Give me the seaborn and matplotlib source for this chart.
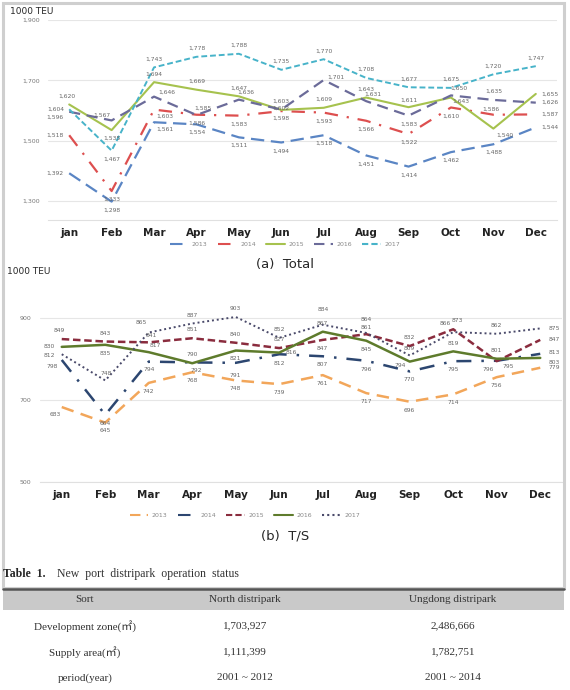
import pandas as pd
import numpy as np
import matplotlib.pyplot as plt
import seaborn as sns

months = ['jan', 'Feb', 'Mar', 'Apr', 'May', 'Jun', 'Jul', 'Aug', 'Sep', 'Oct', 'Nov', 'Dec']
years = ['2013', '2014', '2015', '2016', '2017']

# (a) Total, 1000 TEU
total_2013 = [1392, 1298, 1561, 1554, 1511, 1494, 1518, 1451, 1414, 1462, 1488, 1544]
total_2014 = [1518, 1333, 1603, 1586, 1583, 1598, 1593, 1566, 1522, 1610, 1586, 1587]
total_2015 = [1620, 1535, 1694, 1669, 1647, 1602, 1609, 1643, 1611, 1643, 1540, 1655]
total_2016 = [1596, 1567, 1646, 1585, 1636, 1603, 1701, 1631, 1583, 1650, 1635, 1626]
total_2017 = [1604, 1467, 1743, 1778, 1788, 1735, 1770, 1708, 1677, 1675, 1720, 1747]

# (b) T/S, 1000 TEU
ts_2013 = [683, 645, 742, 768, 748, 739, 761, 717, 696, 714, 756, 779]
ts_2014 = [798, 664, 794, 792, 791, 812, 807, 796, 770, 795, 796, 813]
ts_2015 = [849, 843, 841, 851, 840, 827, 847, 861, 832, 873, 795, 847]
ts_2016 = [830, 835, 817, 790, 821, 816, 867, 845, 794, 819, 801, 803]
ts_2017 = [812, 748, 865, 887, 903, 852, 884, 864, 809, 866, 862, 875]

table_cols = ['Sort', 'North distripark', 'Ungdong distripark']
table_rows = [['Development zone(㎡)', '1,703,927', '2,486,666'],
              ['Supply area(㎡)', '1,111,399', '1,782,751'],
              ['period(year)', '2001 ~ 2012', '2001 ~ 2014']]


def to_long(series):
    rows = []
    for yr, vals in zip(years, series):
        for m, v in zip(months, vals):
            rows.append({'month': m, 'value': v, 'year': yr})
    return pd.DataFrame(rows)


df_total = to_long([total_2013, total_2014, total_2015, total_2016, total_2017])
df_ts = to_long([ts_2013, ts_2014, ts_2015, ts_2016, ts_2017])

sns.set_style('white')
plt.rcParams['font.family'] = ['DejaVu Sans']

W, H = 570, 690
fig = plt.figure(figsize=(5.7, 6.9), dpi=100)


def fx(px):
    return px / W


def fy(py):
    return 1 - py / H


def draw_chart(df, box, ylim, yticks, pal, dashes, widths, offsets, special, fmt,
               legend_y, legend_x):
    x0, y0, x1, y1 = box
    ax = fig.add_axes([fx(x0), fy(y1), fx(x1 - x0), (y1 - y0) / H])
    sns.lineplot(data=df, x='month', y='value', hue='year', style='year',
                 palette=pal, dashes=dashes, ax=ax, sort=False)
    for line, yr in zip(ax.get_lines(), years):
        line.set_linewidth(widths[yr])
    for yr in years:
        d = df[df.year == yr].reset_index(drop=True)
        for i, v in enumerate(d.value):
            off = special.get((yr, i), offsets[yr])
            ax.annotate(fmt(v), (i, v), xytext=off, textcoords='offset points',
                        ha='center', va='center', fontsize=4.3, color='#666666')
    ax.set_xlim(-0.5, 11.5)
    ax.set_ylim(*ylim)
    ax.set_yticks(yticks)
    ax.set_yticklabels([fmt(t) for t in yticks], fontsize=4.5, color='#777777')
    ax.set_xticks(range(12))
    ax.set_xticklabels(months, fontsize=7.5, fontweight='bold', color='#222222')
    ax.tick_params(length=0, pad=6)
    ax.set_xlabel('')
    ax.set_ylabel('')
    ax.grid(axis='y', color='#e6e6e6', lw=0.8)
    for s in ['top', 'right', 'left']:
        ax.spines[s].set_visible(False)
    ax.spines['bottom'].set_color('#e0e0e0')
    handles, labels = ax.get_legend_handles_labels()
    ax.legend(handles, labels, loc='center', bbox_to_anchor=(fx(legend_x), fy(legend_y)),
              bbox_transform=fig.transFigure, ncol=5, frameon=False, fontsize=4.5,
              labelcolor='#888888', handlelength=3, columnspacing=1.6, handletextpad=0.6)
    return ax


pal_a = {'2013': '#5a85c4', '2014': '#dd4f4f', '2015': '#a6c24e', '2016': '#6b6b99', '2017': '#47b3c9'}
dash_a = {'2013': (6, 3), '2014': (6, 4, 1, 4), '2015': '', '2016': (5, 3), '2017': (3, 1.5)}
wid_a = {'2013': 1.6, '2014': 1.6, '2015': 1.5, '2016': 1.6, '2017': 1.4}
off_a = {'2013': (0, -6), '2014': (0, -6), '2015': (0, 6), '2016': (5, 5), '2017': (0, 6)}
spec_a = {('2015', 0): (-2, 6), ('2017', 0): (-10, 0), ('2016', 0): (-10, -4),
          ('2014', 0): (-10, 0), ('2013', 0): (-10, 0),
          ('2016', 1): (-7, 4), ('2015', 1): (0, -6), ('2017', 1): (0, -6),
          ('2016', 2): (9, 3), ('2014', 2): (8, -5), ('2013', 2): (8, -5),
          ('2016', 5): (0, 6), ('2015', 5): (0, 1), ('2014', 5): (0, -5),
          ('2016', 6): (9, 2), ('2015', 8): (0, 5), ('2016', 8): (0, -6),
          ('2016', 9): (6, 5), ('2015', 9): (7, -3), ('2017', 9): (0, 6),
          ('2015', 10): (8, -5), ('2014', 10): (-2, 4), ('2016', 10): (0, 6),
          ('2015', 11): (10, 0), ('2016', 11): (10, 0), ('2014', 11): (10, 0),
          ('2013', 11): (10, 0), ('2017', 11): (0, 6)}

draw_chart(df_total, (48, 20, 557, 220), (1237, 1900), [1300, 1500, 1700, 1900],
           pal_a, dash_a, wid_a, off_a, spec_a, lambda v: f'{int(v):,}', 244, 285)

pal_b = {'2013': '#f2a65a', '2014': '#2c4670', '2015': '#8a2c3e', '2016': '#5e7b2c', '2017': '#4a4a6a'}
dash_b = {'2013': (5, 3), '2014': (6, 4, 1, 4), '2015': (3, 1.5), '2016': '', '2017': (1, 1.5)}
wid_b = {'2013': 1.8, '2014': 1.8, '2015': 1.8, '2016': 1.8, '2017': 1.4}
off_b = {'2013': (0, -6), '2014': (0, -6), '2015': (0, 6), '2016': (0, -6), '2017': (0, 6)}
spec_b = {('2016', 0): (-9, 0), ('2017', 0): (-9, -1), ('2014', 0): (-7, -5),
          ('2015', 0): (-2, 6), ('2013', 0): (-5, -5),
          ('2017', 1): (1, 5), ('2016', 1): (0, -6),
          ('2015', 2): (2, 5), ('2016', 2): (5, 5), ('2017', 2): (-5, 7),
          ('2016', 3): (0, 6), ('2014', 3): (3, -6),
          ('2016', 4): (0, -6), ('2014', 4): (0, -9),
          ('2015', 5): (0, 6), ('2016', 5): (9, 0), ('2014', 5): (0, -7),
          ('2016', 6): (0, 6), ('2017', 6): (0, 11), ('2015', 6): (0, -6),
          ('2017', 7): (0, 10), ('2015', 7): (0, 5), ('2016', 7): (0, -6),
          ('2017', 8): (0, 5), ('2016', 8): (-7, -3),
          ('2017', 9): (-6, 6), ('2015', 9): (3, 6), ('2016', 9): (0, 6),
          ('2015', 10): (8, -4), ('2016', 10): (0, 6), ('2014', 10): (-6, -6),
          ('2017', 11): (10, 0), ('2015', 11): (10, 0), ('2014', 11): (10, 1),
          ('2016', 11): (10, -3), ('2013', 11): (10, 0)}

draw_chart(df_ts, (40, 310, 562, 482), (500, 920), [500, 700, 900],
           pal_b, dash_b, wid_b, off_b, spec_b, lambda v: f'{int(v)}', 515, 245)

# headers and captions
fig.text(fx(10), fy(12), '1000 TEU', fontsize=6.5, va='center', ha='left')
fig.text(fx(7), fy(272), '1000 TEU', fontsize=6.5, va='center', ha='left')
fig.text(fx(285), fy(265), '(a)  Total', fontsize=9.5, va='center', ha='center')
fig.text(fx(285), fy(536), '(b)  T/S', fontsize=9.5, va='center', ha='center')

# outer frame
fig.add_artist(plt.Rectangle((fx(3), fy(588)), fx(561), (585) / H, transform=fig.transFigure,
                             fill=False, edgecolor='#cfcfcf', lw=2.2))

# table
serif = ['Liberation Serif', 'Noto Sans CJK KR']
fig.text(fx(3), fy(574), 'Table  1.', fontsize=8.5, fontweight='bold', family=serif,
         va='center', ha='left')
fig.text(fx(57), fy(574), 'New  port  distripark  operation  status', fontsize=8.5,
         family=serif, va='center', ha='left', color='#333333')
fig.add_artist(plt.Rectangle((fx(3), fy(610)), fx(561), 21 / H, transform=fig.transFigure,
                             facecolor='#c9c9c9', edgecolor='none'))
fig.add_artist(plt.Line2D([fx(3), fx(564)], [fy(588.5), fy(588.5)], transform=fig.transFigure,
                          color='#555555', lw=1.8))
col_x = [85, 245, 453]
for cx, name in zip(col_x, table_cols):
    fig.text(fx(cx), fy(600), name, fontsize=8, family=serif, ha='center', va='center',
             color='#333333')
row_y = [626, 652, 678]
for ry, row in zip(row_y, table_rows):
    for cx, cell in zip(col_x, row):
        fig.text(fx(cx), fy(ry), cell, fontsize=8, family=serif, ha='center', va='center',
                 color='#333333')

fig.savefig('out.png', dpi=100)
